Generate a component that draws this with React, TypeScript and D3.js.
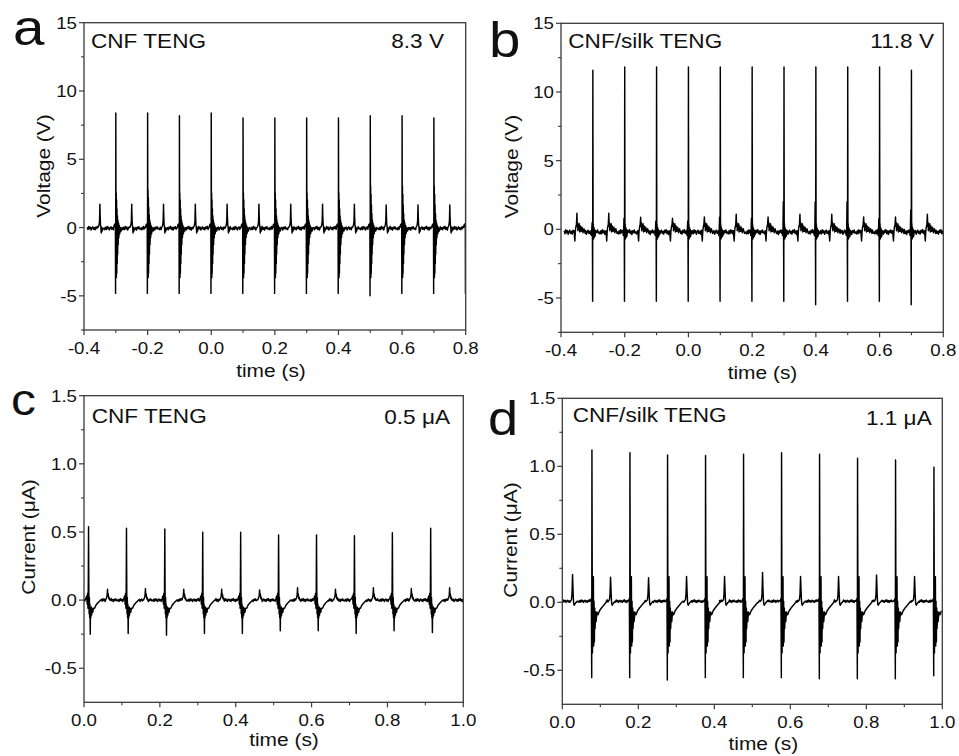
import React from "react";
import * as d3 from "d3";

// ---------- tick labels ----------
const abXTicks = [-0.4, -0.2, 0.0, 0.2, 0.4, 0.6, 0.8];
const abXLabels = ["-0.4", "-0.2", "0.0", "0.2", "0.4", "0.6", "0.8"];
const abXMinor = [-0.3, -0.1, 0.1, 0.3, 0.5, 0.7];
const abYTicks = [-5, 0, 5, 10, 15];
const abYLabels = ["-5", "0", "5", "10", "15"];
const abYMinor = [-7.5, -2.5, 2.5, 7.5, 12.5];
const cdXTicks = [0.0, 0.2, 0.4, 0.6, 0.8, 1.0];
const cdXLabels = ["0.0", "0.2", "0.4", "0.6", "0.8", "1.0"];
const cdXMinor = [0.1, 0.3, 0.5, 0.7, 0.9];
const cdYTicks = [-0.5, 0.0, 0.5, 1.0, 1.5];
const cdYLabels = ["-0.5", "0.0", "0.5", "1.0", "1.5"];
const cdYMinor = [-0.25, 0.25, 0.75, 1.25];

// ---------- baseline texture (fixed, read-off noise shape) ----------
const jitterShape = [0.5, -0.7, 0.9, -0.3, 0.6, -0.9, 0.15, 0.75, -0.55, 0.3, -0.85, 0.7, -0.15, 1.0, -0.6, 0.4, -1.0, 0.55, -0.25, 0.85, -0.45, 0.05, -0.75];

// template rows: [dt, value, role]  role 0 = value relative to baseline, 1 = peak, 2 = trough, 3 = value x ringing, 4 = pre-bump
type Row = [number, number, number];

// ---------- panel a : CNF TENG voltage ----------
const aPulseTimes = [-0.3, -0.2, -0.1, 0.0, 0.1, 0.2, 0.3, 0.4, 0.5, 0.6, 0.7, 0.8];
const aPeaks = [8.39, 8.39, 8.19, 8.39, 8.02, 8.02, 8.02, 8.02, 8.19, 8.19, 8.02, 7.78];
const aTroughs = [-4.82, -4.82, -4.82, -4.82, -4.82, -4.82, -4.82, -4.82, -4.99, -4.82, -4.82, -4.82];
const aRinging = [2.6, 2.8, 2.6, 2.6, 2.6, 2.6, 2.6, 2.6, 3.1, 3.1, 3.1, 2.6];
const aSecTimes = [-0.35, -0.25, -0.15, -0.05, 0.05, 0.15, 0.25, 0.35, 0.45, 0.55, 0.65, 0.75];
const aSecPeaks = [1.71, 1.71, 1.71, 1.71, 1.71, 1.71, 1.71, 1.71, 1.71, 1.66, 1.66, 1.66];
const aMainShape: Row[] = [
  [-0.007, 0.05, 0], [-0.004, 0.3, 0], [-0.0025, 0.1, 0], [-0.0012, 0.35, 0], [-0.0008, 0, 2],
  [-0.0002, 0.4, 0], [0, 0, 1], [0.0006, 0.8, 0], [0.0012, 1, 3], [0.0018, -3.6, 0],
  [0.0024, 0.8, 3], [0.003, -3.3, 0], [0.0037, 0.55, 3], [0.0044, -2.6, 0], [0.0051, 0.35, 3],
  [0.0058, -1.9, 0], [0.0066, 0.6, 0], [0.0075, -1.2, 0], [0.0085, 0.4, 0], [0.0095, -0.7, 0],
  [0.011, 0.2, 0], [0.0125, -0.4, 0], [0.0145, 0.05, 0], [0.017, -0.2, 0], [0.02, 0.05, 0],
];
const aSecShape: Row[] = [
  [-0.006, 0.05, 0], [-0.003, 0.2, 0], [-0.0012, 0.5, 0], [0, 0, 1], [0.0008, 0.9, 0],
  [0.0018, 0.3, 0], [0.003, 0.1, 0], [0.0042, -0.35, 0], [0.0055, 0.05, 0], [0.007, -0.2, 0], [0.009, 0.0, 0],
];

// ---------- panel b : CNF/silk TENG voltage ----------
const bPulseTimes = [-0.3, -0.2, -0.1, 0.0, 0.1, 0.2, 0.3, 0.4, 0.5, 0.6, 0.7];
const bPeaks = [11.58, 11.82, 11.82, 11.82, 11.82, 11.82, 11.82, 11.82, 11.82, 11.82, 11.58];
const bTroughs = [-5.24, -5.24, -5.24, -5.24, -5.24, -5.24, -5.24, -5.49, -5.24, -5.24, -5.49];
const bPreBumps = [0.5, 0.8, 0.6, 0.6, 0.9, 0.8, 2.0, 2.0, 2.0, 0.8, 1.4];
const bSecTimes = [-0.35, -0.25, -0.15, -0.05, 0.05, 0.15, 0.25, 0.35, 0.45, 0.55, 0.65, 0.75];
const bSecPeaks = [1.17, 1.17, 0.88, 0.8, 0.9, 1.1, 0.9, 1.1, 1.1, 0.9, 0.9, 1.1];
const bMainShape: Row[] = [
  [-0.006, 0.1, 0], [-0.0045, -0.25, 0], [-0.0032, 0.3, 0], [-0.0022, 0, 4], [-0.0014, 0.1, 0],
  [-0.0007, 0, 2], [0, 0, 1], [0.0007, -0.4, 0], [0.0014, 0.6, 0], [0.0022, -0.5, 0],
  [0.003, 0.35, 0], [0.0042, -0.4, 0], [0.0055, 0.2, 0], [0.007, -0.3, 0], [0.0085, 0.1, 0],
];
const bSecShape: Row[] = [
  [-0.009, 0.1, 0], [-0.0065, -0.65, 0], [-0.005, 0.05, 0], [-0.0035, 0.35, 0], [-0.0015, 0.55, 0],
  [0, 0, 1], [0.0012, 0.4, 0], [0.0022, 0.7, 0], [0.0032, 0.1, 0], [0.0045, 0.55, 0],
  [0.006, 0.2, 0], [0.0075, 0.6, 0], [0.009, 0.0, 0], [0.011, 0.45, 0], [0.0135, 0.05, 0],
  [0.016, 0.35, 0], [0.019, -0.05, 0], [0.022, 0.25, 0], [0.026, -0.1, 0],
];

// ---------- panel c : CNF TENG current ----------
const cPulseTimes = [0.012, 0.112, 0.213, 0.313, 0.413, 0.513, 0.613, 0.713, 0.813, 0.914];
const cPeaks = [0.539, 0.527, 0.522, 0.498, 0.498, 0.478, 0.478, 0.473, 0.495, 0.527];
const cTroughs = [-0.25, -0.245, -0.257, -0.245, -0.245, -0.225, -0.225, -0.245, -0.225, -0.238];
const cSecTimes = [0.062, 0.162, 0.263, 0.363, 0.463, 0.563, 0.663, 0.763, 0.863, 0.964];
const cSecPeaks = [0.08, 0.085, 0.08, 0.08, 0.075, 0.09, 0.08, 0.09, 0.085, 0.09];
const cMainShape: Row[] = [
  [-0.007, 0.01, 0], [-0.005, 0.03, 0], [-0.0035, -0.03, 0], [-0.0025, 0.05, 0], [-0.0015, -0.06, 0],
  [-0.0008, 0.04, 0], [0, 0, 1], [0.0008, 0.06, 0], [0.0015, -0.1, 0], [0.0022, 0.02, 0],
  [0.003, -0.13, 0], [0.0037, -0.03, 0], [0.0045, 0, 2], [0.0052, -0.06, 0], [0.006, -0.13, 0],
  [0.007, -0.05, 0], [0.008, -0.11, 0], [0.0095, -0.06, 0], [0.011, -0.09, 0], [0.013, -0.06, 0],
  [0.016, -0.06, 0], [0.019, -0.04, 0], [0.023, -0.025, 0], [0.028, -0.01, 0], [0.032, 0.0, 0],
];
const cSecShape: Row[] = [
  [-0.005, 0.0, 0], [-0.003, 0.015, 0], [-0.0012, 0.03, 0], [0, 0, 1], [0.0009, 0.03, 0],
  [0.002, 0.045, 0], [0.0032, 0.01, 0], [0.0045, 0.02, 0], [0.006, 0.0, 0],
];

// ---------- panel d : CNF/silk TENG current ----------
const dPulseTimes = [0.078, 0.178, 0.277, 0.377, 0.477, 0.577, 0.677, 0.777, 0.877, 0.978];
const dPeaks = [1.12, 1.1, 1.084, 1.079, 1.089, 1.1, 1.089, 1.06, 1.047, 0.993];
const dTroughs = [-0.554, -0.554, -0.571, -0.554, -0.554, -0.554, -0.562, -0.562, -0.562, -0.54];
const dRinging = [0.27, 0.22, 0.2, 0.18, 0.2, 0.2, 0.22, 0.2, 0.2, 0.2];
const dSecTimes = [0.027, 0.127, 0.227, 0.327, 0.427, 0.527, 0.627, 0.727, 0.827, 0.927];
const dSecPeaks = [0.204, 0.185, 0.18, 0.19, 0.19, 0.22, 0.19, 0.19, 0.2, 0.19];
const dMainShape: Row[] = [
  [-0.005, 0.0, 0], [-0.003, 0.01, 0], [-0.0015, 0.02, 0], [-0.0006, 0, 2], [0, 0, 1],
  [0.0007, 1, 3], [0.0014, -0.38, 0], [0.0022, 0.05, 0], [0.003, -0.25, 0], [0.0038, 0.18, 0],
  [0.0046, -0.33, 0], [0.0055, 0.0, 0], [0.0064, -0.3, 0], [0.0073, -0.05, 0], [0.0083, -0.2, 0],
  [0.0095, -0.08, 0], [0.011, -0.15, 0], [0.013, -0.08, 0], [0.016, -0.1, 0], [0.02, -0.07, 0],
  [0.025, -0.05, 0], [0.031, -0.03, 0], [0.037, -0.01, 0],
];
const dSecShape: Row[] = [
  [-0.006, 0.0, 0], [-0.003, 0.01, 0], [-0.0015, 0.05, 0], [0, 0, 1], [0.0008, 0.12, 0],
  [0.0018, 0.04, 0], [0.003, -0.02, 0], [0.0045, -0.03, 0], [0.006, -0.02, 0], [0.009, -0.01, 0], [0.012, 0.0, 0],
];

type Group = { times: number[]; peaks: number[]; troughs?: number[]; ring?: number[]; pre?: number[]; shape: Row[] };

function buildTrace(start: number, end: number, step: number, base: number, noise: number, groups: Group[]) {
  const pts: [number, number][] = [];
  const windows: [number, number][] = [];
  groups.forEach((g) => {
    g.times.forEach((T, k) => {
      windows.push([T + g.shape[0][0], T + g.shape[g.shape.length - 1][0]]);
      g.shape.forEach(([dt, v, role]) => {
        let val = base + v;
        if (role === 1) val = g.peaks[k];
        else if (role === 2) val = g.troughs ? g.troughs[k] : base;
        else if (role === 3) val = base + v * (g.ring ? g.ring[k] : 0);
        else if (role === 4) val = g.pre ? g.pre[k] : base;
        pts.push([T + dt, val]);
      });
    });
  });
  const n = Math.round((end - start) / step);
  for (let i = 0; i <= n; i++) {
    const t = start + i * step;
    if (windows.some(([a, b]) => t >= a && t <= b)) continue;
    pts.push([t, base + noise * jitterShape[i % jitterShape.length]]);
  }
  return pts.filter((p) => p[0] >= start - 1e-9 && p[0] <= end + 1e-9).sort((a, b) => a[0] - b[0]);
}

const traceA = buildTrace(-0.39, 0.8, 0.0025, -0.05, 0.14, [
  { times: aPulseTimes, peaks: aPeaks, troughs: aTroughs, ring: aRinging, shape: aMainShape },
  { times: aSecTimes, peaks: aSecPeaks, shape: aSecShape },
]);
const traceB = buildTrace(-0.39, 0.8, 0.0025, -0.2, 0.18, [
  { times: bPulseTimes, peaks: bPeaks, troughs: bTroughs, pre: bPreBumps, shape: bMainShape },
  { times: bSecTimes, peaks: bSecPeaks, shape: bSecShape },
]);
const traceC = buildTrace(0.0, 1.0, 0.002, 0.0, 0.011, [
  { times: cPulseTimes, peaks: cPeaks, troughs: cTroughs, shape: cMainShape },
  { times: cSecTimes, peaks: cSecPeaks, shape: cSecShape },
]);
const traceD = buildTrace(0.0, 1.0, 0.002, 0.008, 0.01, [
  { times: dPulseTimes, peaks: dPeaks, troughs: dTroughs, ring: dRinging, shape: dMainShape },
  { times: dSecTimes, peaks: dSecPeaks, shape: dSecShape },
]);

const FONT = "'Liberation Sans', Arial, Helvetica, sans-serif";
const AXIS = "#3a3a3a";

function Txt(props: { x: number; y: number; size: number; sx?: number; anchor?: string; rot?: number; children: React.ReactNode }) {
  const { x, y, size, sx = 1.13, anchor = "start", rot = 0, children } = props;
  return (
    <text
      transform={`translate(${x},${y}) rotate(${rot}) scale(${sx},1)`}
      fontSize={size}
      fontFamily={FONT}
      textAnchor={anchor}
      fill="#111"
    >
      {children}
    </text>
  );
}

type PanelProps = {
  id: string;
  frame: { l: number; t: number; r: number; b: number };
  xDomain: [number, number];
  yDomain: [number, number];
  xTicks: number[]; xLabels: string[]; xMinor: number[];
  yTicks: number[]; yLabels: string[]; yMinor: number[];
  data: [number, number][];
  yTitle: string; yTitlePos: [number, number];
  xTitlePos: [number, number];
  xLabelY: number;
  leftText: string; leftPos: [number, number];
  rightText: string; rightPos: [number, number];
  letter: string; letterPos: [number, number]; letterSize: number;
};

function Panel(p: PanelProps) {
  const { l, t, r, b } = p.frame;
  const x = d3.scaleLinear().domain(p.xDomain).range([l, r]);
  const y = d3.scaleLinear().domain(p.yDomain).range([b, t]);
  const line = d3.line<[number, number]>().x((d) => x(d[0])).y((d) => y(d[1]));
  const clipId = `clip-${p.id}`;
  return (
    <g>
      <defs>
        <clipPath id={clipId}>
          <rect x={l} y={t} width={r - l} height={b - t} />
        </clipPath>
      </defs>
      <path d={line(p.data) || ""} fill="none" stroke="#000" strokeWidth={1.45} strokeLinejoin="round" clipPath={`url(#${clipId})`} />
      <rect x={l} y={t} width={r - l} height={b - t} fill="none" stroke={AXIS} strokeWidth={1.3} />
      {p.xTicks.map((v, i) => (
        <g key={`xt${i}`}>
          <line x1={x(v)} x2={x(v)} y1={b} y2={b + 5} stroke={AXIS} strokeWidth={1.2} />
          <Txt x={x(v)} y={p.xLabelY} size={17} sx={1.1} anchor="middle">{p.xLabels[i]}</Txt>
        </g>
      ))}
      {p.xMinor.map((v, i) => (
        <line key={`xm${i}`} x1={x(v)} x2={x(v)} y1={b} y2={b + 3} stroke={AXIS} strokeWidth={1.1} />
      ))}
      {p.yTicks.map((v, i) => (
        <g key={`yt${i}`}>
          <line x1={l - 5} x2={l} y1={y(v)} y2={y(v)} stroke={AXIS} strokeWidth={1.2} />
          <Txt x={l - 7} y={y(v) + 6.1} size={17} sx={1.1} anchor="end">{p.yLabels[i]}</Txt>
        </g>
      ))}
      {p.yMinor.map((v, i) => (
        <line key={`ym${i}`} x1={l - 3} x2={l} y1={y(v)} y2={y(v)} stroke={AXIS} strokeWidth={1.1} />
      ))}
      <Txt x={p.xTitlePos[0]} y={p.xTitlePos[1]} size={19} sx={1.1} anchor="middle">time (s)</Txt>
      <Txt x={p.yTitlePos[0]} y={p.yTitlePos[1]} size={19} sx={1.1} anchor="middle" rot={-90}>{p.yTitle}</Txt>
      <Txt x={p.leftPos[0]} y={p.leftPos[1]} size={20}>{p.leftText}</Txt>
      <Txt x={p.rightPos[0]} y={p.rightPos[1]} size={20} anchor="end">{p.rightText}</Txt>
      <Txt x={p.letterPos[0]} y={p.letterPos[1]} size={p.letterSize}>{p.letter}</Txt>
    </g>
  );
}

export default function App() {
  return (
    <svg width={959} height={756} style={{ position: "absolute", left: 0, top: 0, background: "#fff" }}>
      <rect x={0} y={0} width={959} height={756} fill="#fff" />
      <Panel
        id="a" frame={{ l: 84, t: 22.7, r: 465.7, b: 330 }}
        xDomain={[-0.4, 0.8]} yDomain={[-7.5, 15]}
        xTicks={abXTicks} xLabels={abXLabels} xMinor={abXMinor}
        yTicks={abYTicks} yLabels={abYLabels} yMinor={abYMinor}
        data={traceA}
        yTitle="Voltage (V)" yTitlePos={[50, 166]}
        xTitlePos={[271, 377]} xLabelY={353.5}
        leftText="CNF TENG" leftPos={[91, 47.7]}
        rightText="8.3 V" rightPos={[444, 47.7]}
        letter="a" letterPos={[13, 45]} letterSize={50}
      />
      <Panel
        id="b" frame={{ l: 561, t: 23.3, r: 943.3, b: 332.3 }}
        xDomain={[-0.4, 0.8]} yDomain={[-7.5, 15]}
        xTicks={abXTicks} xLabels={abXLabels} xMinor={abXMinor}
        yTicks={abYTicks} yLabels={abYLabels} yMinor={abYMinor}
        data={traceB}
        yTitle="Voltage (V)" yTitlePos={[518, 166.5]}
        xTitlePos={[762.5, 378.5]} xLabelY={355.8}
        leftText="CNF/silk TENG" leftPos={[568.3, 48]}
        rightText="11.8 V" rightPos={[934, 48]}
        letter="b" letterPos={[489, 57]} letterSize={50}
      />
      <Panel
        id="c" frame={{ l: 84, t: 395.7, r: 463.3, b: 702.3 }}
        xDomain={[0, 1]} yDomain={[-0.75, 1.5]}
        xTicks={cdXTicks} xLabels={cdXLabels} xMinor={cdXMinor}
        yTicks={cdYTicks} yLabels={cdYLabels} yMinor={cdYMinor}
        data={traceC}
        yTitle="Current (μA)" yTitlePos={[35, 537]}
        xTitlePos={[284, 746]} xLabelY={725.5}
        leftText="CNF TENG" leftPos={[91.7, 423.3]}
        rightText="0.5 μA" rightPos={[450, 423.5]}
        letter="c" letterPos={[11, 415]} letterSize={44}
      />
      <Panel
        id="d" frame={{ l: 562.3, t: 398.3, r: 942.3, b: 704.3 }}
        xDomain={[0, 1]} yDomain={[-0.75, 1.5]}
        xTicks={cdXTicks} xLabels={cdXLabels} xMinor={cdXMinor}
        yTicks={cdYTicks} yLabels={cdYLabels} yMinor={cdYMinor}
        data={traceD}
        yTitle="Current (μA)" yTitlePos={[517.3, 540]}
        xTitlePos={[763.3, 750]} xLabelY={728}
        leftText="CNF/silk TENG" leftPos={[572.7, 421.7]}
        rightText="1.1 μA" rightPos={[931.7, 425]}
        letter="d" letterPos={[488, 435]} letterSize={48}
      />
    </svg>
  );
}
